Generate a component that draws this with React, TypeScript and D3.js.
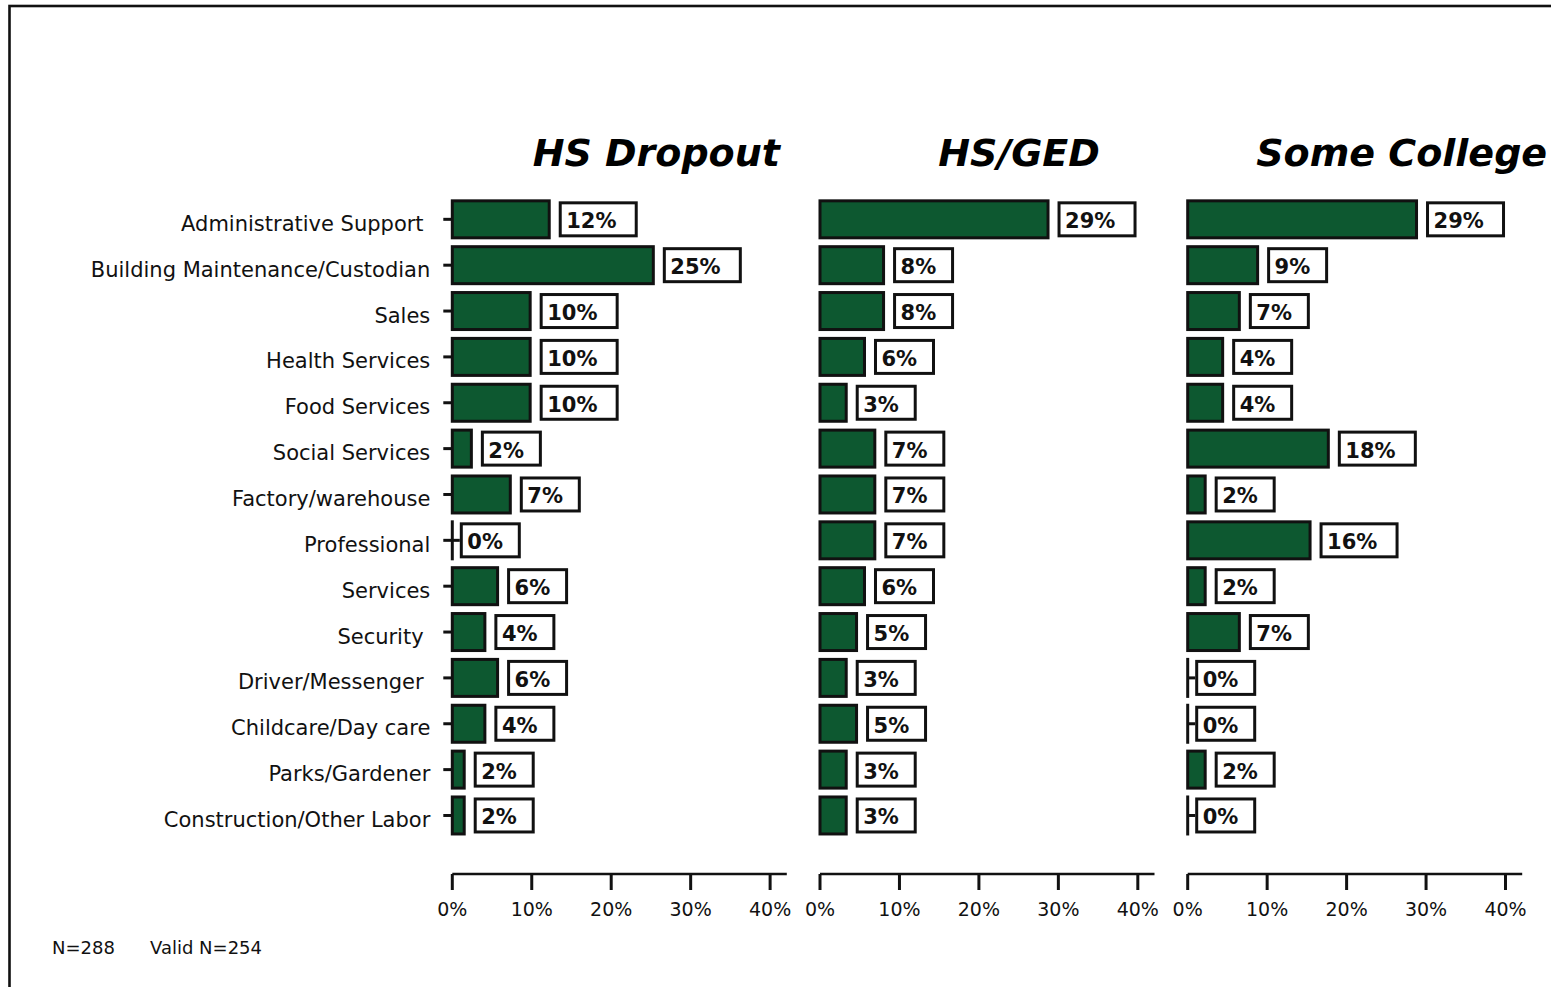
import React, { useEffect } from "react";
import * as d3 from "d3";

const categories = [
  "Administrative Support ",
  "Building Maintenance/Custodian",
  "Sales",
  "Health Services",
  "Food Services",
  "Social Services",
  "Factory/warehouse",
  "Professional",
  "Services",
  "Security ",
  "Driver/Messenger ",
  "Childcare/Day care",
  "Parks/Gardener",
  "Construction/Other Labor",
];

const panelTitles = ["HS Dropout", "HS/GED", "Some College"];

const hsDropoutValues = [12.2, 25.3, 9.8, 9.8, 9.8, 2.4, 7.3, 0, 5.7, 4.1, 5.7, 4.1, 1.5, 1.5];
const hsGedValues = [28.7, 8.0, 8.0, 5.6, 3.3, 6.9, 6.9, 6.9, 5.6, 4.6, 3.3, 4.6, 3.3, 3.3];
const someCollegeValues = [28.8, 8.8, 6.5, 4.4, 4.4, 17.7, 2.2, 15.4, 2.2, 6.5, 0, 0, 2.2, 0];

const hsDropoutLabels = ["12%", "25%", "10%", "10%", "10%", "2%", "7%", "0%", "6%", "4%", "6%", "4%", "2%", "2%"];
const hsGedLabels = ["29%", "8%", "8%", "6%", "3%", "7%", "7%", "7%", "6%", "5%", "3%", "5%", "3%", "3%"];
const someCollegeLabels = ["29%", "9%", "7%", "4%", "4%", "18%", "2%", "16%", "2%", "7%", "0%", "0%", "2%", "0%"];

const xTicks = [0, 10, 20, 30, 40];
const footnotes = ["N=288", "Valid N=254"];

const panelValues = [hsDropoutValues, hsGedValues, someCollegeValues];
const panelLabels = [hsDropoutLabels, hsGedLabels, someCollegeLabels];

const W = 1551;
const H = 987;
const firstX0 = 452.3;
const panelStep = 367.7;
const panelW = 334.5;
const xMax = 42.1;
const axisY = 874;
const titleShift = [0, -5, 10];
const GREEN = "#0d5830";
const INK = "#111";

export default function App() {
  useEffect(() => {
    document.body.style.margin = "0";
    document.body.style.overflow = "hidden";
  }, []);

  const y = d3.scaleBand<string>().domain(categories).range([196.4, 838.4]).padding(0);
  const cy = (c: string) => (y(c) as number) + y.bandwidth() / 2;

  const panels = panelTitles.map((title, i) => {
    const x0 = firstX0 + i * panelStep;
    const x = d3.scaleLinear().domain([0, xMax]).range([x0, x0 + panelW]);
    return { title, x, x0, values: panelValues[i], labels: panelLabels[i], i };
  });

  return (
    <svg
      width={W}
      height={H}
      style={{ display: "block", position: "absolute", left: 0, top: 0 }}
      fontFamily="'DejaVu Sans', Verdana, sans-serif"
    >
      <rect x={0} y={0} width={W} height={H} fill="#fff" />
      <rect x={9.5} y={6} width={1700} height={1200} fill="none" stroke={INK} strokeWidth={2.6} />

      {/* category labels and ticks for the first panel */}
      {categories.map((c) => (
        <g key={c}>
          <text
            x={firstX0 - 22}
            y={cy(c) + 11.5}
            textAnchor="end"
            fontSize={21}
            fill={INK}
            style={{ whiteSpace: "pre" }}
          >
            {c}
          </text>
          <line x1={firstX0 - 9} x2={firstX0} y1={cy(c)} y2={cy(c)} stroke={INK} strokeWidth={3} />
        </g>
      ))}

      {panels.map((p) => (
        <g key={p.title}>
          <text
            x={p.x0 + 204 + titleShift[p.i]}
            y={166}
            textAnchor="middle"
            fontSize={38}
            fontWeight="bold"
            fontStyle="italic"
            fill="#000"
          >
            {p.title}
          </text>

          {categories.map((c, k) => {
            const v = p.values[k];
            const label = p.labels[k];
            const xe = p.x(v);
            const c0 = cy(c);
            const boxLeft = xe + (v > 0 ? 9.5 : 7.5);
            const boxW = 25 + 18 * label.length;
            return (
              <g key={c}>
                {v > 0 ? (
                  <rect
                    x={p.x0}
                    y={c0 - 18.5}
                    width={xe - p.x0}
                    height={37}
                    fill={GREEN}
                    stroke={INK}
                    strokeWidth={3}
                  />
                ) : (
                  <g>
                    <line x1={p.x0} x2={p.x0} y1={c0 - 20} y2={c0 + 20} stroke={INK} strokeWidth={3} />
                    <line x1={p.x0} x2={boxLeft} y1={c0} y2={c0} stroke={INK} strokeWidth={3} />
                  </g>
                )}
                <rect
                  x={boxLeft + 1.5}
                  y={c0 - 16.5}
                  width={boxW - 3}
                  height={33}
                  fill="#fff"
                  stroke={INK}
                  strokeWidth={3}
                />
                <text x={boxLeft + 7.5} y={c0 + 9} fontSize={21} fontWeight="bold" fill={INK}>
                  {label}
                </text>
              </g>
            );
          })}

          {/* x axis */}
          <line x1={p.x0} x2={p.x0 + panelW} y1={axisY} y2={axisY} stroke={INK} strokeWidth={2.5} />
          {xTicks.map((t) => (
            <g key={t}>
              <line x1={p.x(t)} x2={p.x(t)} y1={axisY} y2={axisY + 16} stroke={INK} strokeWidth={3} />
              <text x={p.x(t)} y={916} textAnchor="middle" fontSize={19} fill={INK}>
                {t + "%"}
              </text>
            </g>
          ))}
        </g>
      ))}

      <text x={52} y={954} fontSize={18} fill={INK}>
        {footnotes[0]}
      </text>
      <text x={150} y={954} fontSize={18} fill={INK}>
        {footnotes[1]}
      </text>
    </svg>
  );
}
